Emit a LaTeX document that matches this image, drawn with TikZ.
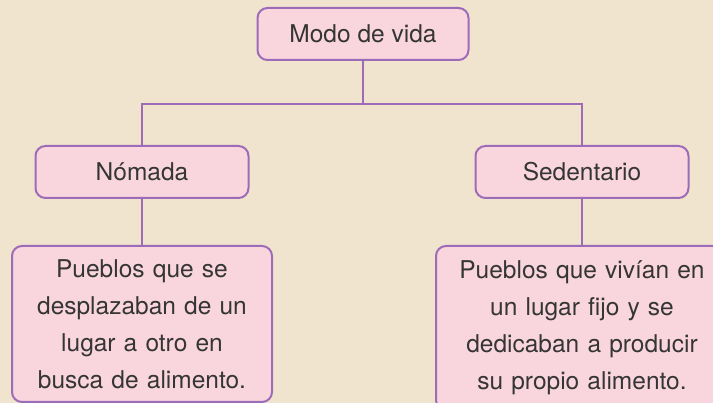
\documentclass[tikz,border=0pt]{standalone}
\usepackage{fontspec}
\setmainfont{TeX Gyre Heros}
\usetikzlibrary{positioning}
\definecolor{fondo}{HTML}{F0E4CF}
\definecolor{rosa}{HTML}{F9D6DE}
\definecolor{lila}{HTML}{9C6CB8}
\definecolor{texto}{HTML}{353535}
\tikzset{
	caja/.style={draw=lila, line width=2pt, fill=rosa, rounded corners=10pt,
		text=texto, align=center, inner sep=0pt},
	linea/.style={draw=lila, line width=1.5pt}
}

\begin{document}
\begin{tikzpicture}[x=1pt,y=-1pt]
			\fontsize{24.5}{37}\selectfont
			\fill [fondo] (0,0) rectangle (713,403);
			\clip (0,0) rectangle (713,403);
			% cajas
			\node [caja, minimum width=211pt, minimum height=52pt] (modo) at (363,34) {Modo de vida};
			\node [caja, minimum width=213pt, minimum height=52pt] (nomada) at (142,172) {Nómada};
			\node [caja, minimum width=213pt, minimum height=52pt] (sedentario) at (582,172) {Sedentario};
			\node [caja, text width=260pt, minimum height=156pt] (izq) at (142,324)
				{Pueblos que se\\desplazaban de un\\lugar a otro en\\busca de alimento.};
			\node [caja, text width=292pt, minimum height=164pt] (der) at (582,328)
				{Pueblos que vivían en\\un lugar fijo y se\\dedicaban a producir\\su propio alimento.};
			% lineas
			\coordinate (union) at (363,104);
			\draw [linea] (modo) -- (union);
			\draw [linea] (nomada.north) |- (union) -| (sedentario.north);
			\draw [linea] (nomada.south) -- (nomada.south |- izq.north);
			\draw [linea] (sedentario.south) -- (sedentario.south |- der.north);
		\end{tikzpicture}
\end{document}
